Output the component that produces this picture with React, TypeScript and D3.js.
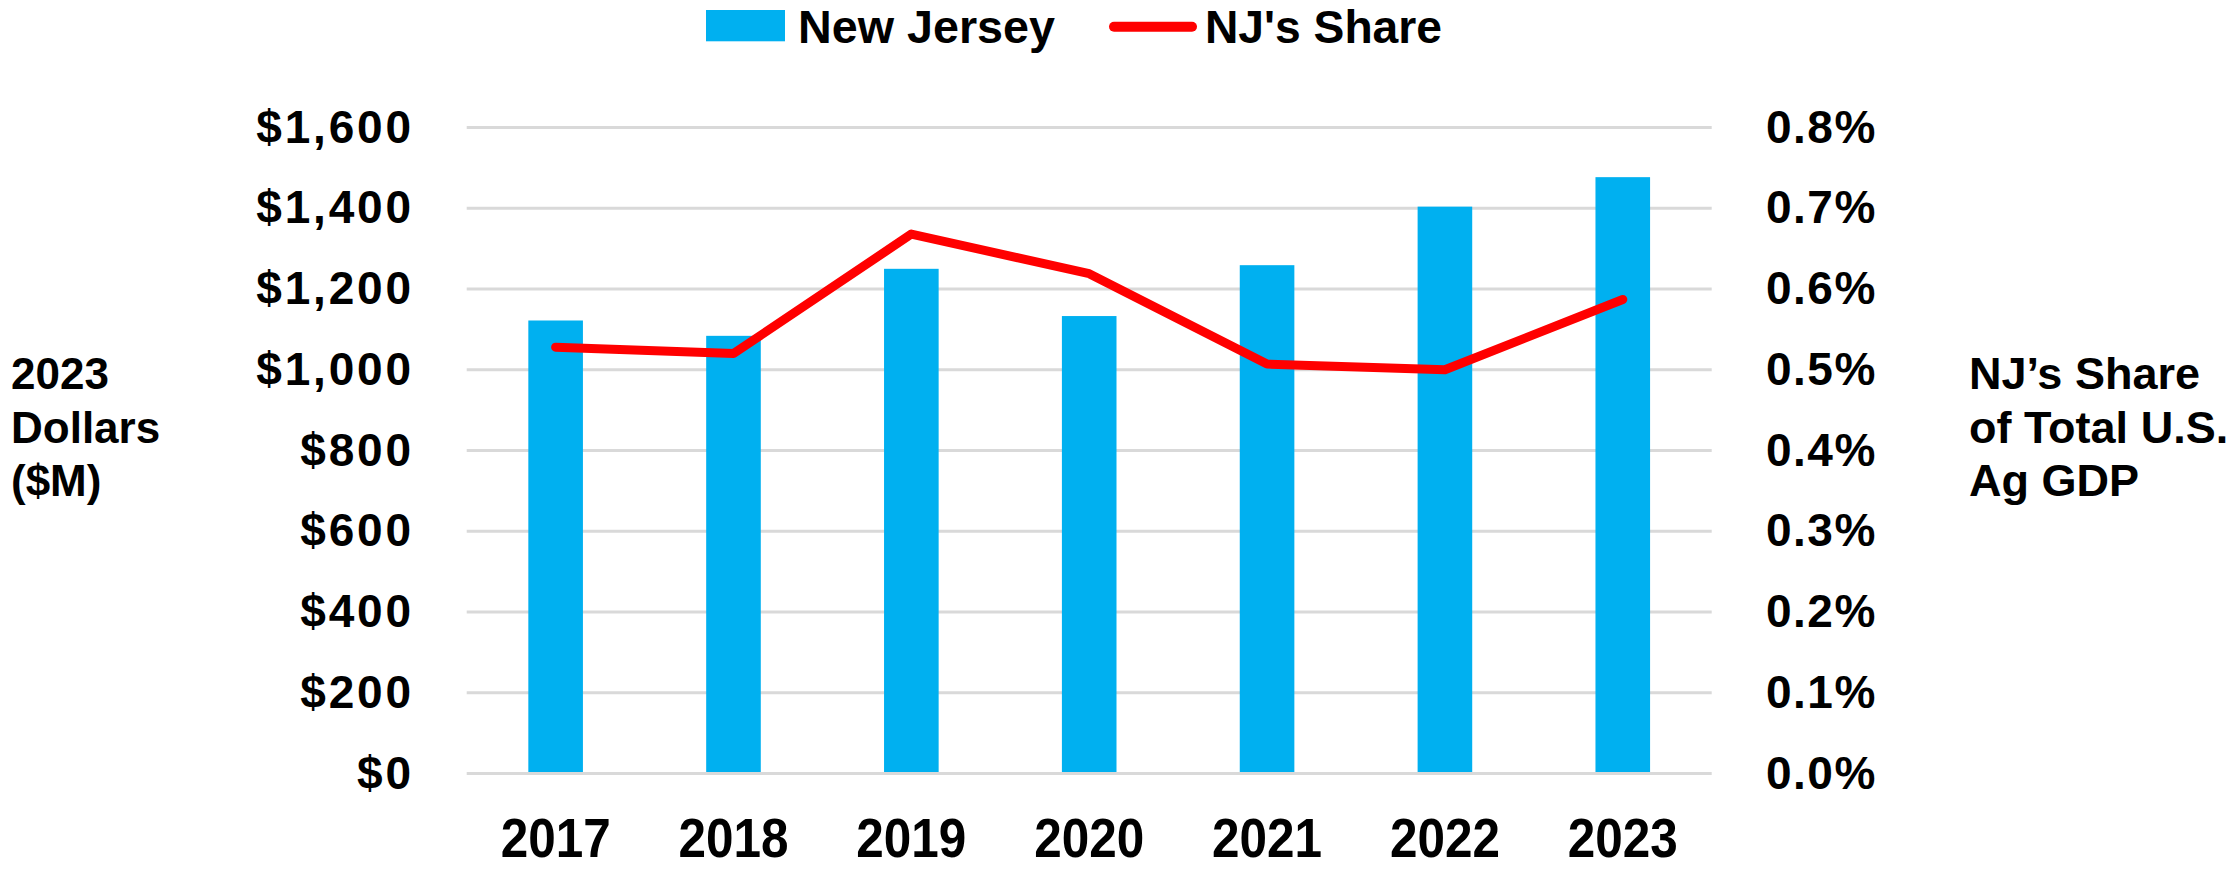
import React from "react";
import * as d3 from "d3";

const years = ["2017", "2018", "2019", "2020", "2021", "2022", "2023"];
const njValues = [1122, 1084, 1250, 1133, 1259, 1404, 1477];
const njShare = [0.00528, 0.0052, 0.00668, 0.00619, 0.00507, 0.005, 0.00587];
const leftTicks = [0, 200, 400, 600, 800, 1000, 1200, 1400, 1600];
const rightTicks = [0, 0.001, 0.002, 0.003, 0.004, 0.005, 0.006, 0.007, 0.008];
const leftTitle = ["2023", "Dollars", "($M)"];
const rightTitle = ["NJ\u2019s Share", "of Total U.S.", "Ag GDP"];
const legendBar = "New Jersey";
const legendLine = "NJ's Share";

const W = 2237;
const H = 869;
const BAR = "#00B0F0";
const LINE = "#FF0000";
const GRID = "#D9D9D9";
const FONT = "'Liberation Sans', Arial, sans-serif";
const NARROW = "'Liberation Sans Narrow', 'Arial Narrow', 'Liberation Sans', Arial, sans-serif";

export default function App() {
  if (typeof document !== "undefined") {
    document.body.style.margin = "0";
    document.body.style.overflow = "hidden";
  }
  const x = d3.scaleBand<string>().domain(years).range([466.7, 1711.7]).padding(0);
  const yL = d3.scaleLinear().domain([0, 1600]).range([773.5, 127.5]);
  const yR = d3.scaleLinear().domain([0, 0.008]).range([773.5, 127.5]);
  const bw = x.bandwidth() * 0.307;
  const cx = (d: string) => (x(d) as number) + x.bandwidth() / 2;
  const line = d3
    .line<number>()
    .x((_, i) => cx(years[i]))
    .y((d) => yR(d));
  const fmtL = (v: number) => "$" + d3.format(",")(v);
  const fmtR = d3.format(".1%");

  return (
    <svg
      width={W}
      height={H}
      style={{ position: "absolute", left: 0, top: 0, background: "#fff" }}
    >
      {/* gridlines */}
      {leftTicks.map((t) => (
        <line
          key={"g" + t}
          x1={466.7}
          x2={1711.7}
          y1={yL(t)}
          y2={yL(t)}
          stroke={GRID}
          strokeWidth={3}
        />
      ))}
      {/* bars */}
      {years.map((yr, i) => (
        <rect
          key={"b" + yr}
          x={cx(yr) - bw / 2}
          y={yL(njValues[i])}
          width={bw}
          height={yL(0) - yL(njValues[i]) - 1.5}
          fill={BAR}
        />
      ))}
      {/* line */}
      <path
        d={line(njShare) || ""}
        fill="none"
        stroke={LINE}
        strokeWidth={9}
        strokeLinejoin="round"
        strokeLinecap="round"
      />
      {/* left ticks */}
      {leftTicks.map((t) => (
        <text
          key={"lt" + t}
          x={413.8}
          y={yL(t) + 15}
          textAnchor="end"
          fontFamily={FONT}
          fontWeight="bold"
          fontSize={46}
          letterSpacing={2.8}
          fill="#000"
        >
          {fmtL(t)}
        </text>
      ))}
      {/* right ticks */}
      {rightTicks.map((t) => (
        <text
          key={"rt" + t}
          x={1766}
          y={yR(t) + 15}
          textAnchor="start"
          fontFamily={FONT}
          fontWeight="bold"
          fontSize={46}
          letterSpacing={1.5}
          fill="#000"
        >
          {fmtR(t)}
        </text>
      ))}
      {/* x labels */}
      {years.map((yr) => (
        <text
          key={"x" + yr}
          x={cx(yr)}
          y={857}
          textAnchor="middle"
          fontFamily={NARROW}
          fontWeight="bold"
          fontSize={56}
          textLength={110}
          lengthAdjust="spacingAndGlyphs"
          fill="#000"
        >
          {yr}
        </text>
      ))}
      {/* axis titles */}
      {leftTitle.map((s, i) => (
        <text
          key={"lti" + i}
          x={11}
          y={389 + i * 53.5}
          fontFamily={FONT}
          fontWeight="bold"
          fontSize={44}
          fill="#000"
        >
          {s}
        </text>
      ))}
      {rightTitle.map((s, i) => (
        <text
          key={"rti" + i}
          x={1969}
          y={389 + i * 53.5}
          fontFamily={FONT}
          fontWeight="bold"
          fontSize={45}
          fill="#000"
        >
          {s}
        </text>
      ))}
      {/* legend */}
      <rect x={706} y={10} width={79} height={31.3} fill={BAR} />
      <text
        x={798}
        y={42.5}
        fontFamily={FONT}
        fontWeight="bold"
        fontSize={47}
        textLength={257}
        lengthAdjust="spacingAndGlyphs"
        fill="#000"
      >
        {legendBar}
      </text>
      <line
        x1={1114}
        x2={1192}
        y1={26.7}
        y2={26.7}
        stroke={LINE}
        strokeWidth={10}
        strokeLinecap="round"
      />
      <text
        x={1205}
        y={42.5}
        fontFamily={FONT}
        fontWeight="bold"
        fontSize={47}
        textLength={237}
        lengthAdjust="spacingAndGlyphs"
        fill="#000"
      >
        {legendLine}
      </text>
    </svg>
  );
}
